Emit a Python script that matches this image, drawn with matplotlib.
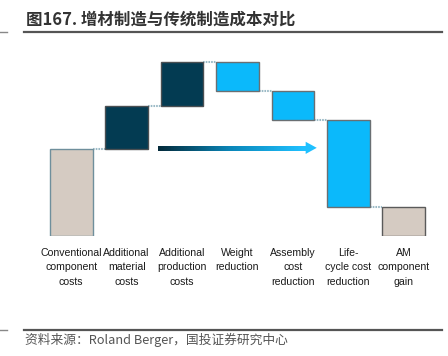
import numpy as np
import matplotlib
matplotlib.use("Agg")
import matplotlib.pyplot as plt
from matplotlib.collections import LineCollection
from matplotlib.colors import LinearSegmentedColormap
from matplotlib.patches import Polygon
from matplotlib import font_manager

plt.rcParams['font.family'] = ['Noto Sans CJK SC', 'DejaVu Sans']

# ---- data ----
categories = ["Conventional\ncomponent\ncosts", "Additional\nmaterial\ncosts",
              "Additional\nproduction\ncosts", "Weight\nreduction",
              "Assembly\ncost\nreduction", "Life-\ncycle cost\nreduction",
              "AM\ncomponent\ngain"]
changes = [100, 50, 50, -33, -34, -100, 33]
kinds = ["total", "up", "up", "down", "down", "down", "total"]

title = "图167. 增材制造与传统制造成本对比"
source = "资料来源：Roland Berger，国投证券研究中心"

# ---- style ----
fill = {"total": "#d5cbc2", "up": "#033b52", "down": "#0bb9fb"}
edge = {"total": "#6f8f9c", "up": "#4a4f52", "down": "#6a6f72"}
edge_last = "#5a5a5a"
bar_w = 0.77

names = {f.name for f in font_manager.fontManager.ttflist}
if 'Liberation Sans Narrow' in names:
    tick_family, tick_size = ['Liberation Sans Narrow', 'DejaVu Sans'], 8.8
else:
    tick_family, tick_size = ['Liberation Sans', 'DejaVu Sans'], 7.6

W, H = 448, 356
fig = plt.figure(figsize=(W / 100, H / 100), dpi=100)

px_per_cat = 55.43
left_px = 71.2 - px_per_cat / 2
base_px = 236.0
ymax = 210
px_per_unit = 0.8685
ax = fig.add_axes([left_px / W, (H - base_px) / H,
                   7 * px_per_cat / W, ymax * px_per_unit / H])
ax.set_xlim(-0.5, 6.5)
ax.set_ylim(0, ymax)
for s in ax.spines.values():
    s.set_visible(False)
ax.set_yticks([])

bottoms, heights = [], []
level = 0
for c, k in zip(changes, kinds):
    if k == "total":
        bottoms.append(0)
        heights.append(c)
        level = c
    else:
        if c >= 0:
            bottoms.append(level)
            heights.append(c)
        else:
            bottoms.append(level + c)
            heights.append(-c)
        level += c

x = np.arange(len(categories))
for i in range(len(categories)):
    ec = edge[kinds[i]] if i < len(categories) - 1 else edge_last
    ax.bar(x[i], heights[i], bottom=bottoms[i], width=bar_w,
           color=fill[kinds[i]], edgecolor=ec, linewidth=1.0, zorder=3)

for i in range(len(categories) - 1):
    lv = bottoms[i] + heights[i] if (kinds[i] == "total" or changes[i] >= 0) else bottoms[i]
    ax.plot([x[i] + bar_w / 2, x[i + 1] - bar_w / 2], [lv, lv],
            color="#9bbac6", lw=1.5, ls=(0, (0.8, 0.5)), zorder=2)

# gradient arrow
a0, a1 = 1.6, 4.43
ay = changes[0] + 1.5
head_len = 0.2
n = 150
xs = np.linspace(a0, a1 - head_len, n + 1)
segs = [[(xs[j], ay), (xs[j + 1], ay)] for j in range(n)]
cmap = LinearSegmentedColormap.from_list("g", ["#032a3a", "#0a86b8", "#1fc0ff"])
cols = [cmap(t) for t in np.linspace(0, 1, n)]
lc = LineCollection(segs, colors=cols, linewidths=2.4, zorder=4,
                    capstyle='projecting', antialiased=False)
ax.add_collection(lc)
hh = 7.0
ax.add_patch(Polygon([(a1 - head_len, ay + hh), (a1, ay), (a1 - head_len, ay - hh)],
                     closed=True, color="#1fc0ff", zorder=5, lw=0))

ax.set_xticks(x)
ax.set_xticklabels(categories, fontsize=tick_size, color="#1a1a1a",
                   family=tick_family)
for lbl in ax.get_xticklabels():
    lbl.set_linespacing(1.55)
ax.tick_params(axis='x', length=0, pad=8.5)

fig.text(26 / W, 1 - 20 / H, title, fontsize=11.9, fontweight='bold',
         color="#333333", va='center', ha='left')
fig.add_artist(plt.Line2D([24 / W, 442 / W], [1 - 32 / H, 1 - 32 / H],
                          color="#555555", lw=1.6))
fig.add_artist(plt.Line2D([0, 7 / W], [1 - 32 / H, 1 - 32 / H],
                          color="#888888", lw=1.0))
fig.add_artist(plt.Line2D([24 / W, 442 / W], [1 - 330 / H, 1 - 330 / H],
                          color="#555555", lw=1.6))
fig.add_artist(plt.Line2D([0, 7 / W], [1 - 330 / H, 1 - 330 / H],
                          color="#888888", lw=1.0))
fig.text(25 / W, 1 - 340 / H, source, fontsize=9.2, style='italic',
         color="#555555", va='center', ha='left')

fig.savefig("out.png", dpi=100)
